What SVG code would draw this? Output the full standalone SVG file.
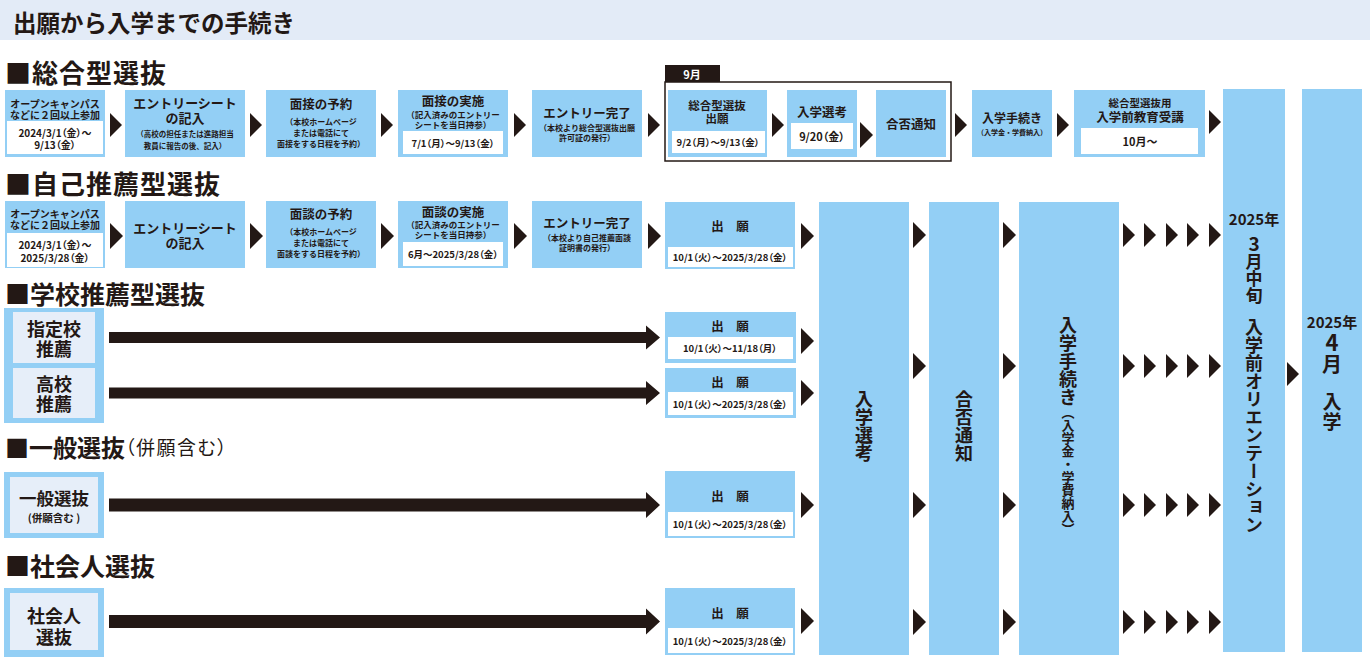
<svg xmlns="http://www.w3.org/2000/svg" xmlns:xlink="http://www.w3.org/1999/xlink" width="1370" height="663" viewBox="0 0 1370 663">
<style>
text{font-family:"Noto Sans CJK JP","Noto Sans CJK SC",sans-serif;font-weight:700;fill:#231815;text-anchor:middle;dominant-baseline:central}
.p{font-feature-settings:"palt"}
.b{fill:#93cff5}
.w{fill:#ffffff}
.l{fill:#e6eef9}
.ar{fill:#231815}
.h{text-anchor:start}
.v{writing-mode:vertical-rl;text-anchor:start}
.vu{writing-mode:vertical-rl;text-orientation:upright;text-anchor:start}
</style>
<defs>
<path id="tri" d="M0,-12 L12,0 L0,12 Z" class="ar"/>
<path id="tri2" d="M0,-13 L13,0 L0,13 Z" class="ar"/>
</defs>
<rect x="0" y="0" width="1370" height="40" fill="#e3ebf7"/>
<text class="h" x="13" y="22" font-size="23.5">出願から入学までの手続き</text>
<g id="section-titles">
<text class="h" x="5" y="71" font-size="26" letter-spacing="1">■総合型選抜</text>
<text class="h" x="5" y="182" font-size="26" letter-spacing="1">■自己推薦型選抜</text>
<text class="h" x="5" y="293" font-size="25">■学校推薦型選抜</text>
<text class="h" x="5" y="446" font-size="24">■一般選抜<tspan font-size="19" font-weight="400" style="font-feature-settings:'palt'" letter-spacing="1.5">（併願含む）</tspan></text>
<text class="h" x="5" y="565" font-size="25">■社会人選抜</text>
</g>
<g id="row1">
<g id="r1-oc"><rect class="b" x="5" y="90" width="100" height="67"/><text font-size="10"><tspan x="55" y="103">オープンキャンパス</tspan><tspan x="55" y="114">などに２回以上参加</tspan></text><rect class="w" x="7" y="121" width="96" height="33"/><text class="p" font-size="10"><tspan x="55" y="132">2024/3/1（金）～</tspan><tspan x="55" y="144">9/13（金）</tspan></text></g>
<g id="r1-es"><rect class="b" x="125" y="90" width="120" height="67"/><text font-size="13"><tspan x="185" y="102">エントリーシート</tspan><tspan x="185" y="117">の記入</tspan><tspan x="185" y="133" font-size="7.5">（高校の担任または進路担当</tspan><tspan x="185" y="145" font-size="7.5">教員に報告の後、記入）</tspan></text></g>
<g id="r1-yoyaku"><rect class="b" x="266" y="90" width="110" height="67"/><text font-size="8"><tspan x="321" y="103" font-size="12.5">面接の予約</tspan><tspan x="321" y="121">（本校ホームページ</tspan><tspan x="321" y="132">または電話にて</tspan><tspan x="321" y="143">面接をする日程を予約）</tspan></text></g>
<g id="r1-jisshi"><rect class="b" x="398" y="90" width="110" height="67"/><text font-size="8.5"><tspan x="453" y="100" font-size="12.5">面接の実施</tspan><tspan x="453" y="114">（記入済みのエントリー</tspan><tspan x="453" y="124">シートを当日持参）</tspan></text><rect class="w" x="403" y="131" width="100" height="23"/><text class="p" x="453" y="142.5" font-size="9.5">7/1（月）～9/13（金）</text></g>
<g id="r1-kanryo"><rect class="b" x="532" y="90" width="110" height="67"/><text font-size="8"><tspan x="587" y="112" font-size="12.5">エントリー完了</tspan><tspan x="587" y="127">（本校より総合型選抜出願</tspan><tspan x="587" y="137">許可証の発行）</tspan></text></g>
<g id="r1-frame"><rect x="665" y="82" width="286" height="79" fill="none" stroke="#231815" stroke-width="1.5"/><rect x="665" y="65" width="55" height="17" fill="#231815"/><text x="692" y="73.5" font-size="11" style="fill:#ffffff">9月</text></g>
<g id="r1-shutsugan"><rect class="b" x="668" y="90" width="99" height="67"/><text font-size="11.5"><tspan x="717" y="105">総合型選抜</tspan><tspan x="717" y="118">出願</tspan></text><rect class="w" x="672" y="131" width="93" height="22"/><text class="p" x="718" y="142" font-size="9.5">9/2（月）～9/13（金）</text></g>
<g id="r1-senko"><rect class="b" x="787" y="90" width="70" height="67"/><text x="822" y="111" font-size="12.5">入学選考</text><rect class="w" x="791" y="123" width="62" height="26"/><text class="p" x="822" y="136" font-size="11">9/20（金）</text></g>
<g id="r1-gohi"><rect class="b" x="876" y="90" width="70" height="67"/><text x="911" y="123" font-size="12.5">合否通知</text></g>
<g id="r1-tetsuzuki"><rect class="b" x="972" y="90" width="80" height="67"/><text font-size="12"><tspan x="1012" y="117">入学手続き</tspan><tspan x="1012" y="132" font-size="7">（入学金・学費納入）</tspan></text></g>
<g id="r1-kyoiku"><rect class="b" x="1074" y="90" width="131" height="67"/><text font-size="12.5"><tspan x="1140" y="102" font-size="10.5">総合型選抜用</tspan><tspan x="1140" y="116">入学前教育受講</tspan></text><rect class="w" x="1081" y="128" width="117" height="26"/><text class="p" x="1140" y="141" font-size="11">10月～</text></g>
</g>
<g id="row2">
<g id="r2-oc"><rect class="b" x="5" y="201" width="100" height="67"/><text font-size="10"><tspan x="55" y="213">オープンキャンパス</tspan><tspan x="55" y="224">などに２回以上参加</tspan></text><rect class="w" x="7" y="233" width="96" height="34"/><text class="p" font-size="10"><tspan x="55" y="244">2024/3/1（金）～</tspan><tspan x="55" y="257">2025/3/28（金）</tspan></text></g>
<g id="r2-es"><rect class="b" x="125" y="201" width="120" height="67"/><text font-size="13"><tspan x="185" y="227">エントリーシート</tspan><tspan x="185" y="242">の記入</tspan></text></g>
<g id="r2-yoyaku"><rect class="b" x="266" y="201" width="110" height="67"/><text font-size="8"><tspan x="321" y="213" font-size="12.5">面談の予約</tspan><tspan x="321" y="231">（本校ホームページ</tspan><tspan x="321" y="242">または電話にて</tspan><tspan x="321" y="253">面談をする日程を予約）</tspan></text></g>
<g id="r2-jisshi"><rect class="b" x="398" y="201" width="110" height="67"/><text font-size="8.5"><tspan x="453" y="211" font-size="12.5">面談の実施</tspan><tspan x="453" y="224">（記入済みのエントリー</tspan><tspan x="453" y="234">シートを当日持参）</tspan></text><rect class="w" x="403" y="242" width="100" height="24"/><text class="p" x="453" y="254" font-size="9.5">6月～2025/3/28（金）</text></g>
<g id="r2-kanryo"><rect class="b" x="532" y="201" width="110" height="67"/><text font-size="8"><tspan x="587" y="222" font-size="12.5">エントリー完了</tspan><tspan x="587" y="237">（本校より自己推薦面談</tspan><tspan x="587" y="247">証明書の発行）</tspan></text></g>
<g id="r2-shutsugan"><rect class="b" x="665" y="202" width="130" height="67"/><text x="730" y="225" font-size="12.5">出　願</text><rect class="w" x="668" y="247" width="125" height="20"/><text class="p" x="730" y="257" font-size="9.5">10/1（火）～2025/3/28（金）</text></g>
</g>
<g id="row3">
<g id="r3-left"><rect class="b" x="4" y="308" width="100" height="115"/><rect class="l" x="13" y="312" width="82" height="51"/><rect class="l" x="13" y="368" width="82" height="50"/><text font-size="18"><tspan x="54" y="328">指定校</tspan><tspan x="54" y="348">推薦</tspan></text><text font-size="18"><tspan x="54" y="383">高校</tspan><tspan x="54" y="403">推薦</tspan></text></g>
<g id="r3-shutsugan1"><rect class="b" x="665" y="312" width="131" height="51"/><text x="730" y="325" font-size="12.5">出　願</text><rect class="w" x="668" y="337" width="125" height="22"/><text class="p" x="730" y="348" font-size="9.5">10/1（火）～11/18（月）</text></g>
<g id="r3-shutsugan2"><rect class="b" x="665" y="368" width="131" height="50"/><text x="730" y="381" font-size="12.5">出　願</text><rect class="w" x="668" y="392" width="125" height="23"/><text class="p" x="730" y="404" font-size="9.5">10/1（火）～2025/3/28（金）</text></g>
</g>
<g id="row4">
<g id="r4-left"><rect class="b" x="4" y="472" width="100" height="66"/><rect class="l" x="10" y="477" width="88" height="56"/><text font-size="17.5"><tspan x="54" y="497">一般選抜</tspan><tspan x="54" y="517" font-size="10.5">(併願含む )</tspan></text></g>
<g id="r4-shutsugan"><rect class="b" x="665" y="471" width="130" height="67"/><text x="730" y="495" font-size="12.5">出　願</text><rect class="w" x="668" y="512" width="125" height="24"/><text class="p" x="730" y="524" font-size="9.5">10/1（火）～2025/3/28（金）</text></g>
</g>
<g id="row5">
<g id="r5-left"><rect class="b" x="4" y="588" width="100" height="69"/><rect class="l" x="10" y="593" width="88" height="57"/><text font-size="18"><tspan x="54" y="615">社会人</tspan><tspan x="54" y="636">選抜</tspan></text></g>
<g id="r5-shutsugan"><rect class="b" x="665" y="588" width="130" height="67"/><text x="730" y="612" font-size="12.5">出　願</text><rect class="w" x="668" y="628" width="125" height="25"/><text class="p" x="730" y="641" font-size="9.5">10/1（火）～2025/3/28（金）</text></g>
</g>
<g id="col-senko"><rect class="b" x="819" y="202" width="90" height="453"/><text class="v" x="864" y="390" font-size="18">入学選考</text></g>
<g id="col-gohi"><rect class="b" x="929" y="202" width="70" height="453"/><text class="v" x="964" y="390" font-size="18">合否通知</text></g>
<g id="col-tetsuzuki"><rect class="b" x="1019" y="202" width="100" height="453"/><text class="v" x="1068" y="316" font-size="18">入学手続き<tspan font-size="13">（入学金・学費納入）</tspan></text></g>
<g id="col-orientation"><rect class="b" x="1223" y="89" width="62" height="563"/><text x="1254" y="218" font-size="15">2025年</text><text class="vu" x="1254" y="234" font-size="17"><tspan font-size="19">3</tspan>月中旬</text><text class="v" x="1254" y="318" font-size="18">入学前オリエンテーション</text></g>
<g id="col-nyugaku"><rect class="b" x="1302" y="89" width="60" height="563"/><text font-size="19"><tspan x="1332" y="321" font-size="15">2025年</tspan><tspan x="1332" y="341" font-size="22">4</tspan><tspan x="1332" y="363" font-size="20">月</tspan><tspan x="1332" y="400">入</tspan><tspan x="1332" y="420">学</tspan></text></g>
<g id="connectors">
<use xlink:href="#tri" x="110" y="125"/><use xlink:href="#tri" x="250" y="125"/><use xlink:href="#tri" x="381" y="125"/><use xlink:href="#tri" x="514" y="125"/><use xlink:href="#tri" x="648" y="125"/><use xlink:href="#tri" x="772" y="125"/><use xlink:href="#tri2" x="860" y="135"/><use xlink:href="#tri" x="955" y="125"/><use xlink:href="#tri" x="1057" y="125"/><use xlink:href="#tri" x="1209" y="122"/>
<use xlink:href="#tri2" x="110" y="236"/><use xlink:href="#tri2" x="250" y="236"/><use xlink:href="#tri2" x="381" y="236"/><use xlink:href="#tri2" x="514" y="236"/><use xlink:href="#tri2" x="648" y="236"/><use xlink:href="#tri2" x="801" y="236"/>
<path class="ar" d="M109,332 H646 V325.5 L660,337.5 L646,349.5 V343 H109 Z"/>
<path class="ar" d="M109,387.5 H646 V381 L660,393 L646,405 V398.5 H109 Z"/>
<path class="ar" d="M109,498.5 H646 V492 L660,505 L646,518 V511.5 H109 Z"/>
<path class="ar" d="M109,615 H646 V608.5 L660,621.5 L646,634.5 V628 H109 Z"/>
<use xlink:href="#tri2" x="801" y="341"/><use xlink:href="#tri2" x="801" y="393"/><use xlink:href="#tri2" x="801" y="505"/><use xlink:href="#tri2" x="801" y="621"/>
<use xlink:href="#tri2" x="913" y="235"/><use xlink:href="#tri2" x="913" y="366"/><use xlink:href="#tri2" x="913" y="505"/><use xlink:href="#tri2" x="913" y="622"/>
<use xlink:href="#tri2" x="1003" y="235"/><use xlink:href="#tri2" x="1003" y="366"/><use xlink:href="#tri2" x="1003" y="505"/><use xlink:href="#tri2" x="1003" y="622"/>
<use xlink:href="#tri" x="1123" y="235"/><use xlink:href="#tri" x="1144" y="235"/><use xlink:href="#tri" x="1166" y="235"/><use xlink:href="#tri" x="1187" y="235"/><use xlink:href="#tri" x="1209" y="235"/>
<use xlink:href="#tri" x="1123" y="366"/><use xlink:href="#tri" x="1144" y="366"/><use xlink:href="#tri" x="1166" y="366"/><use xlink:href="#tri" x="1187" y="366"/><use xlink:href="#tri" x="1209" y="366"/>
<use xlink:href="#tri" x="1123" y="505"/><use xlink:href="#tri" x="1144" y="505"/><use xlink:href="#tri" x="1166" y="505"/><use xlink:href="#tri" x="1187" y="505"/><use xlink:href="#tri" x="1209" y="505"/>
<use xlink:href="#tri" x="1123" y="622"/><use xlink:href="#tri" x="1144" y="622"/><use xlink:href="#tri" x="1166" y="622"/><use xlink:href="#tri" x="1187" y="622"/><use xlink:href="#tri" x="1209" y="622"/>
<use xlink:href="#tri" x="1287" y="374"/>
</g>
</svg>
